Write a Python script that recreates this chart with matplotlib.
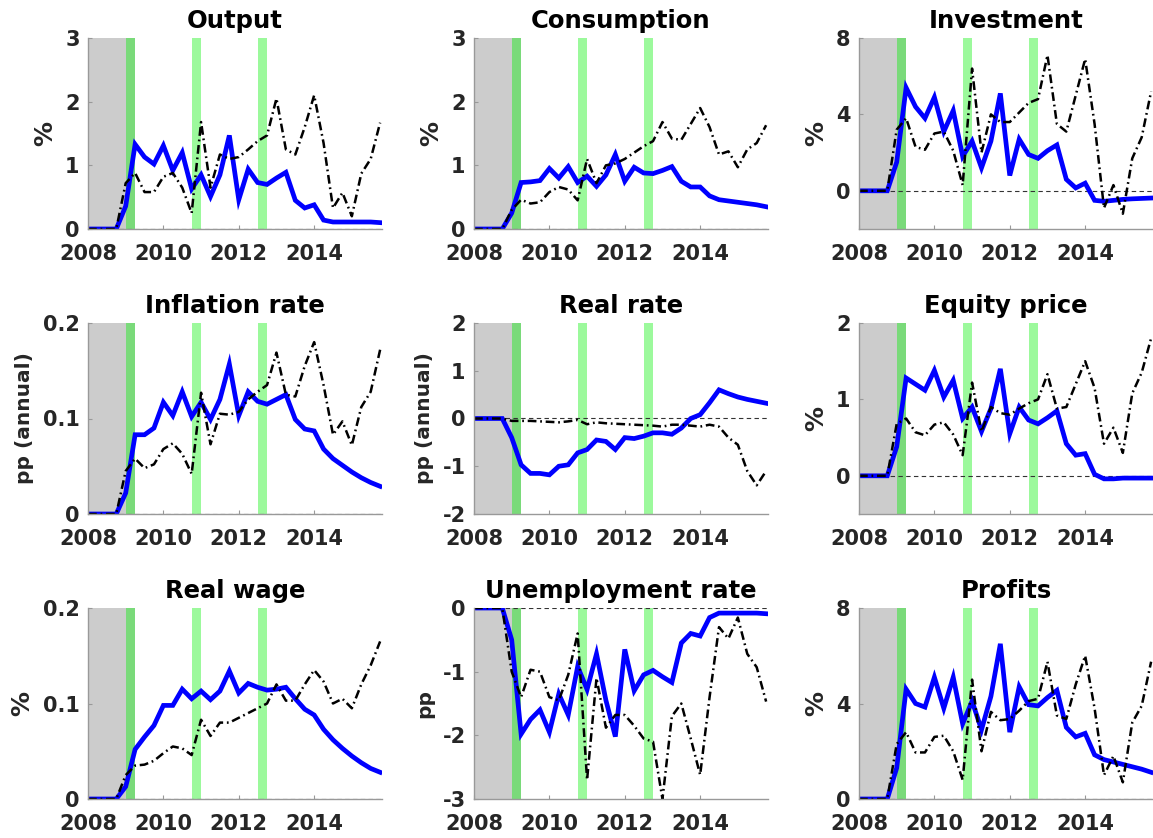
import numpy as np
import matplotlib
matplotlib.use("Agg")
import matplotlib.pyplot as plt

# quarterly dates 2008Q1 .. 2015Q4
dates = 2008 + 0.25 * np.arange(32)

titles = ["Output", "Consumption", "Investment",
          "Inflation rate", "Real rate", "Equity price",
          "Real wage", "Unemployment rate", "Profits"]
ylabels = ["%", "%", "%",
           "pp (annual)", "pp (annual)", "%",
           "%", "pp", "%"]
ylims = [(0, 3), (0, 3), (-2, 8),
         (0, 0.2), (-2, 2), (-0.5, 2),
         (0, 0.2), (-3, 0), (0, 8)]
yticks = [[0, 1, 2, 3], [0, 1, 2, 3], [0, 4, 8],
          [0, 0.1, 0.2], [-2, -1, 0, 1, 2], [0, 1, 2],
          [0, 0.1, 0.2], [-3, -2, -1, 0], [0, 4, 8]]
ytick_labels = [["0", "1", "2", "3"], ["0", "1", "2", "3"], ["0", "4", "8"],
                ["0", "0.1", "0.2"], ["-2", "-1", "0", "1", "2"], ["0", "1", "2"],
                ["0", "0.1", "0.2"], ["-3", "-2", "-1", "0"], ["0", "4", "8"]]

output_blue = [0, 0, 0, 0, 0.36, 1.33, 1.13, 1.02, 1.31, 0.92, 1.2, 0.63, 0.85, 0.51, 0.85, 1.47,
               0.46, 0.94, 0.73, 0.7, 0.8, 0.89, 0.45, 0.33, 0.38, 0.14, 0.11, 0.11, 0.11, 0.11, 0.11, 0.1]
output_black = [0, 0, 0, 0, 0.72, 0.88, 0.58, 0.58, 0.82, 0.88, 0.65, 0.25, 1.68, 0.65, 1.17, 1.1,
                1.13, 1.25, 1.38, 1.47, 2.05, 1.25, 1.17, 1.6, 2.1, 1.35, 0.33, 0.57, 0.2, 0.87, 1.1, 1.67]

cons_blue = [0, 0, 0, 0, 0.25, 0.73, 0.74, 0.76, 0.95, 0.8, 0.98, 0.73, 0.83, 0.67, 0.85, 1.17,
             0.75, 0.97, 0.88, 0.87, 0.92, 0.98, 0.75, 0.66, 0.66, 0.52, 0.46, 0.44, 0.42, 0.4, 0.38, 0.35]
cons_black = [0, 0, 0, 0, 0.3, 0.46, 0.4, 0.42, 0.58, 0.66, 0.62, 0.45, 1.1, 0.72, 1.0, 1.03,
              1.1, 1.2, 1.3, 1.38, 1.68, 1.42, 1.4, 1.65, 1.9, 1.6, 1.17, 1.22, 0.97, 1.25, 1.35, 1.63]

inv_blue = [0, 0, 0, 0, 1.5, 5.4, 4.4, 3.8, 4.9, 3.1, 4.2, 1.8, 2.6, 1.2, 2.6, 5.1,
            0.8, 2.7, 1.9, 1.7, 2.1, 2.4, 0.6, 0.15, 0.4, -0.5, -0.55, -0.5, -0.45, -0.42, -0.4, -0.38]
inv_black = [0, 0, 0, 0, 3.2, 3.8, 2.3, 2.15, 3.0, 3.1, 2.1, 0.3, 6.4, 2.0, 4.0, 3.6,
             3.6, 4.1, 4.6, 4.8, 7.1, 3.5, 3.1, 5.0, 6.9, 3.5, -0.9, 0.3, -1.2, 1.7, 2.8, 5.2]

infl_blue = [0, 0, 0, 0, 0.022, 0.083, 0.083, 0.09, 0.117, 0.103, 0.128, 0.102, 0.117, 0.099, 0.12, 0.157,
             0.103, 0.128, 0.118, 0.115, 0.12, 0.125, 0.099, 0.089, 0.087, 0.068, 0.058, 0.051, 0.044, 0.038, 0.033, 0.029]
infl_black = [0, 0, 0, 0, 0.045, 0.058, 0.048, 0.052, 0.068, 0.074, 0.063, 0.042, 0.127, 0.073, 0.105, 0.104,
              0.107, 0.12, 0.128, 0.135, 0.169, 0.125, 0.123, 0.155, 0.18, 0.135, 0.083, 0.097, 0.072, 0.112, 0.128, 0.172]

rate_blue = [0, 0, 0, 0, -0.4, -0.97, -1.15, -1.15, -1.18, -1.0, -0.97, -0.72, -0.65, -0.45, -0.48, -0.65,
             -0.4, -0.42, -0.37, -0.3, -0.3, -0.33, -0.2, 0.0, 0.08, 0.33, 0.6, 0.52, 0.45, 0.4, 0.36, 0.32]
rate_black = [0, 0, 0, 0, -0.05, -0.05, -0.05, -0.06, -0.07, -0.08, -0.06, -0.03, -0.12, -0.08, -0.1, -0.11,
              -0.12, -0.13, -0.14, -0.15, -0.17, -0.13, -0.13, -0.15, -0.17, -0.13, -0.17, -0.4, -0.55, -1.1, -1.4, -1.1]

eq_blue = [0, 0, 0, 0, 0.38, 1.28, 1.2, 1.12, 1.38, 1.03, 1.25, 0.75, 0.9, 0.58, 0.88, 1.4,
           0.55, 0.9, 0.73, 0.68, 0.76, 0.85, 0.42, 0.27, 0.29, 0.02, -0.04, -0.04, -0.03, -0.03, -0.03, -0.03]
eq_black = [0, 0, 0, 0, 0.68, 0.75, 0.57, 0.53, 0.67, 0.7, 0.54, 0.27, 1.22, 0.58, 0.9, 0.82,
            0.8, 0.88, 0.95, 1.0, 1.33, 0.88, 0.9, 1.2, 1.5, 1.15, 0.42, 0.63, 0.3, 1.08, 1.35, 1.8]

wage_blue = [0, 0, 0, 0, 0.013, 0.052, 0.065, 0.077, 0.098, 0.098, 0.115, 0.105, 0.113, 0.104, 0.113, 0.134,
             0.111, 0.121, 0.117, 0.114, 0.115, 0.117, 0.105, 0.094, 0.088, 0.073, 0.062, 0.053, 0.045, 0.038, 0.032, 0.028]
wage_black = [0, 0, 0, 0, 0.025, 0.035, 0.036, 0.04, 0.048, 0.055, 0.053, 0.046, 0.083, 0.066, 0.08, 0.08,
              0.085, 0.09, 0.095, 0.1, 0.12, 0.103, 0.103, 0.12, 0.135, 0.123, 0.1, 0.105, 0.095, 0.12, 0.14, 0.165]

unemp_blue = [0, 0, 0, 0, -0.5, -1.98, -1.75, -1.6, -1.95, -1.35, -1.68, -0.92, -1.28, -0.72, -1.45, -2.02,
              -0.65, -1.3, -1.05, -0.98, -1.08, -1.17, -0.55, -0.4, -0.44, -0.15, -0.08, -0.08, -0.08, -0.08, -0.08, -0.09]
unemp_black = [0, 0, 0, 0, -1.0, -1.4, -0.97, -1.0, -1.4, -1.45, -1.05, -0.4, -2.7, -1.1, -1.88, -1.68,
               -1.68, -1.85, -2.05, -2.1, -3.0, -1.7, -1.5, -2.05, -2.62, -1.4, -0.3, -0.48, -0.15, -0.72, -0.93, -1.47]

prof_blue = [0, 0, 0, 0, 1.3, 4.6, 4.0, 3.85, 5.1, 3.8, 5.1, 3.15, 4.1, 2.9, 4.3, 6.5,
             2.8, 4.7, 3.95, 3.9, 4.25, 4.55, 3.0, 2.6, 2.75, 1.85, 1.65, 1.55, 1.45, 1.35, 1.25, 1.12]
prof_black = [0, 0, 0, 0, 2.3, 2.8, 1.95, 1.95, 2.6, 2.65, 2.0, 0.8, 5.0, 2.0, 3.65, 3.3,
              3.35, 3.7, 4.1, 4.2, 5.75, 3.5, 3.35, 4.8, 6.0, 3.8, 1.0, 1.8, 0.7, 3.2, 3.9, 5.75]

blue_series = [output_blue, cons_blue, inv_blue, infl_blue, rate_blue,
               eq_blue, wage_blue, unemp_blue, prof_blue]
black_series = [output_black, cons_black, inv_black, infl_black, rate_black,
                eq_black, wage_black, unemp_black, prof_black]

# shaded periods
gray_span = (2008.0, 2009.0)
dark_green_span = (2009.0, 2009.25)
light_green_spans = [(2010.75, 2011.0), (2012.5, 2012.75)]

W, H = 1153, 838
fig = plt.figure(figsize=(W / 100, H / 100), dpi=100)
plt.rcParams['font.family'] = ['DejaVu Sans']

lefts = [88, 474, 859]
tops = [38, 323, 608]
aw, ah = 294, 191

for k in range(9):
    r, c = divmod(k, 3)
    ax = fig.add_axes([lefts[c] / W, 1 - (tops[r] + ah) / H, aw / W, ah / H])
    ax.axvspan(*gray_span, color='#cccccc', lw=0, zorder=0)
    ax.axvspan(*dark_green_span, color='#7ada7a', lw=0, zorder=0)
    for s in light_green_spans:
        ax.axvspan(*s, color='#9cf99c', lw=0, zorder=0)
    ax.axhline(0, color='#333333', lw=0.8, ls=(0, (4, 3)), zorder=1)
    ax.plot(dates, blue_series[k], color='#0000ff', lw=3.4, zorder=2,
            solid_joinstyle='miter')
    ax.plot(dates, black_series[k], color='black', lw=1.8,
            ls=(0, (3.5, 1.5, 0.7, 1.5)), zorder=3)
    ax.set_xlim(2008, 2015.8)
    ax.set_ylim(*ylims[k])
    ax.set_xticks([2008, 2010, 2012, 2014])
    ax.set_xticklabels(["2008", "2010", "2012", "2014"])
    ax.set_yticks(yticks[k])
    ax.set_yticklabels(ytick_labels[k])
    for sp in ['top', 'right']:
        ax.spines[sp].set_visible(False)
    for sp in ['left', 'bottom']:
        ax.spines[sp].set_color('#999999')
        ax.spines[sp].set_linewidth(1.0)
        ax.spines[sp].set_zorder(4)
    ax.tick_params(axis='both', direction='in', length=3, width=0.8,
                   color='#999999', labelsize=15, labelcolor='#262626')
    ax.tick_params(axis='x', pad=11)
    ax.tick_params(axis='y', pad=6)
    for lab in ax.get_xticklabels() + ax.get_yticklabels():
        lab.set_fontweight('bold')
    ax.set_title(titles[k], fontsize=17.5, fontweight='bold', pad=7)
    ysize = 18 if ylabels[k] == "%" else 14.5
    ax.set_ylabel(ylabels[k], fontsize=ysize, fontweight='bold', labelpad=6,
                  color='#262626')

fig.savefig("out.png", dpi=100)
